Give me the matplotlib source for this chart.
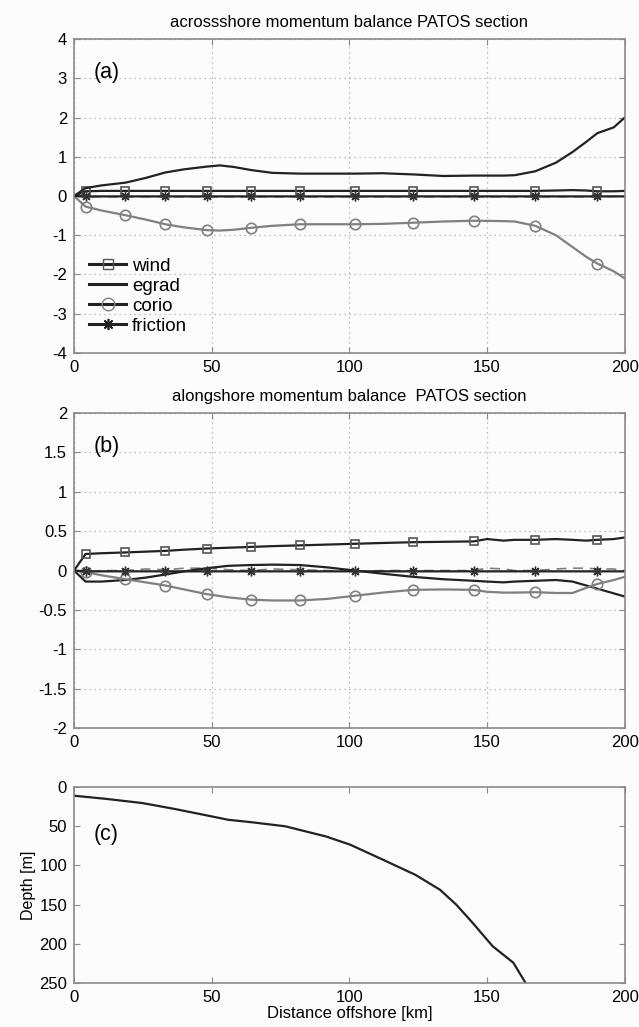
"""Momentum balance terms across the PATOS section (3 panels)."""

import matplotlib.pyplot as plt
from matplotlib.lines import Line2D

plt.rcParams["font.family"] = ["Liberation Sans", "DejaVu Sans"]
plt.rcParams["axes.unicode_minus"] = False

# ---- panel (a): acrossshore terms ----
xa = [0, 4.2, 10, 18.7, 26, 33.2, 40, 48.3, 53, 58, 64.4, 72, 82.1, 92, 102, 112,
      123.2, 134, 145.1, 156, 160, 167.5, 175, 181, 186, 190, 196, 200]
wind_a = [0, 0.12, 0.13, 0.13, 0.13, 0.13, 0.13, 0.13, 0.13, 0.13, 0.13, 0.13, 0.13, 0.13,
          0.13, 0.13, 0.13, 0.13, 0.13, 0.13, 0.13, 0.13, 0.14, 0.15, 0.14, 0.12, 0.12, 0.13]
egrad_a = [0, 0.2, 0.27, 0.34, 0.46, 0.6, 0.68, 0.75, 0.78, 0.74, 0.66, 0.59, 0.57, 0.57,
           0.57, 0.58, 0.55, 0.51, 0.52, 0.52, 0.53, 0.63, 0.85, 1.12, 1.38, 1.6, 1.75, 2.0]
corio_a = [0, -0.27, -0.37, -0.49, -0.6, -0.72, -0.8, -0.87, -0.88, -0.86, -0.81, -0.76,
           -0.72, -0.72, -0.72, -0.71, -0.68, -0.65, -0.63, -0.64, -0.65, -0.76, -1.0,
           -1.3, -1.55, -1.72, -1.92, -2.1]
fric_a = [0, -0.01, -0.01, -0.01, -0.01, -0.01, -0.01, -0.01, -0.01, -0.01, -0.01, -0.01,
          -0.01, -0.01, -0.01, -0.01, -0.01, -0.01, -0.01, -0.01, -0.01, -0.01, -0.01,
          -0.01, -0.01, -0.01, -0.01, -0.01]
resid_a = [0, -0.03, -0.02, -0.02, -0.02, -0.02, -0.02, -0.02, -0.02, -0.02, -0.02, -0.02,
           -0.02, -0.02, -0.02, -0.02, -0.02, -0.02, -0.02, -0.02, -0.02, -0.02, -0.02,
           -0.02, -0.02, -0.02, -0.01, -0.01]
mark_a = [1, 3, 5, 7, 10, 12, 14, 16, 18, 21, 25]

# ---- panel (b): alongshore terms ----
xb = [0, 4.2, 10, 18.7, 26, 33.2, 40, 48.3, 56, 64.4, 72, 82.1, 92, 102, 112, 123.2,
      134, 145.1, 150, 156, 160, 167.5, 175, 181, 186, 190, 196, 200]
wind_b = [0, 0.21, 0.22, 0.23, 0.24, 0.25, 0.265, 0.28, 0.29, 0.30, 0.31, 0.32, 0.33, 0.34,
          0.35, 0.36, 0.365, 0.37, 0.40, 0.38, 0.39, 0.39, 0.40, 0.39, 0.38, 0.39, 0.40, 0.42]
egrad_b = [0, -0.14, -0.14, -0.12, -0.09, -0.05, -0.01, 0.03, 0.06, 0.07, 0.075, 0.07,
           0.04, 0.0, -0.04, -0.08, -0.11, -0.13, -0.14, -0.15, -0.14, -0.13, -0.12,
           -0.14, -0.19, -0.23, -0.29, -0.33]
corio_b = [0, -0.02, -0.06, -0.11, -0.15, -0.19, -0.24, -0.30, -0.34, -0.37, -0.38, -0.38,
           -0.36, -0.32, -0.28, -0.245, -0.24, -0.245, -0.27, -0.28, -0.28, -0.275,
           -0.285, -0.285, -0.22, -0.17, -0.12, -0.08]
fric_b = [0, -0.01, -0.01, -0.01, -0.01, -0.01, -0.01, -0.01, -0.01, -0.01, -0.01, -0.01,
          -0.01, -0.01, -0.01, -0.01, -0.01, -0.01, -0.01, -0.01, -0.01, -0.01, -0.01,
          -0.01, -0.01, -0.01, -0.01, -0.01]
resid_b = [0, -0.02, 0.0, 0.0, 0.02, 0.01, 0.03, 0.03, 0.01, 0.0, 0.02, 0.01, 0.0, -0.01,
           0.0, 0.0, 0.0, 0.0, 0.03, 0.02, 0.0, 0.0, 0.02, 0.03, 0.03, 0.02, 0.02, 0.0]
mark_b = [1, 3, 5, 7, 9, 11, 13, 15, 17, 21, 25]

# ---- panel (c): bottom depth ----
xc = [0, 11.6, 24.9, 36.7, 50, 56, 64.9, 76.7, 91.5, 100.3, 112.2, 124, 132.9, 138.8,
      144.7, 152, 159.5, 164]
depth = [11, 15, 20.4, 28, 37.4, 41.7, 45, 50, 63, 73.5, 92.7, 112, 131, 150, 173, 203,
         224, 250]

DARK = "#222222"
GRAY = "#808080"
FRAME = "#8a8a8a"
BG = "#fcfcfc"
STAR = (8, 2, 0)  # matlab-style asterisk

fig = plt.figure(figsize=(6.39, 10.27), dpi=100, facecolor=BG)
ax_a = fig.add_axes([0.1158, 0.6563, 0.862, 0.3057])
ax_b = fig.add_axes([0.1158, 0.2911, 0.862, 0.3067])
ax_c = fig.add_axes([0.1158, 0.0428, 0.862, 0.1908])


def style(ax, grid=True):
    ax.set_facecolor(BG)
    for s in ax.spines.values():
        s.set_color(FRAME)
        s.set_linewidth(1.2)
    ax.tick_params(direction="in", top=True, right=True, color=FRAME, length=4,
                   labelsize=12, pad=5)
    ax.set_xlim(0, 200)
    ax.set_xticks([0, 50, 100, 150, 200])
    if grid:
        ax.grid(True, linestyle=(0, (1, 3)), color="#aaaaaa", linewidth=0.9)


def balance(ax, x, wind, egrad, corio, fric, resid, marks):
    ax.plot(x, resid, color=GRAY, lw=1.2, ls="--", dashes=(6, 4))
    ax.plot(x, wind, color=DARK, lw=1.6, marker="s", markevery=marks, ms=6,
            mfc="none", mec="#555555", mew=1.2)
    ax.plot(x, egrad, color=DARK, lw=1.6)
    ax.plot(x, corio, color=GRAY, lw=1.6, marker="o", markevery=marks, ms=7.5,
            mfc="none", mec=GRAY, mew=1.2)
    ax.plot(x, fric, color=DARK, lw=1.6, marker=STAR, markevery=marks, ms=7,
            mec="#333333", mew=1.0)


# (a)
style(ax_a)
balance(ax_a, xa, wind_a, egrad_a, corio_a, fric_a, resid_a, mark_a)
ax_a.set_ylim(-4, 4)
ax_a.set_yticks(range(-4, 5))
ax_a.set_title("acrossshore momentum balance PATOS section", fontsize=12, pad=9)
ax_a.text(7.3, 3.15, "(a)", fontsize=15.5, va="center")

handles = [
    Line2D([], [], color=DARK, lw=2.2, marker="s", ms=7, mfc="none", mec="#555555"),
    Line2D([], [], color=DARK, lw=2.2),
    Line2D([], [], color=DARK, lw=2.2, marker="o", ms=9, mfc="none", mec=GRAY),
    Line2D([], [], color=DARK, lw=2.2, marker=STAR, ms=8, mec=DARK, mew=1.2),
]
ax_a.legend(handles, ["wind", "egrad", "corio", "friction"], loc="lower left",
            bbox_to_anchor=(0.0, 0.01), frameon=False, fontsize=13.5, handlelength=2.0,
            handletextpad=0.3, labelspacing=0.15, borderpad=0.3)

# (b)
style(ax_b)
balance(ax_b, xb, wind_b, egrad_b, corio_b, fric_b, resid_b, mark_b)
ax_b.set_ylim(-2, 2)
ax_b.set_yticks([-2, -1.5, -1, -0.5, 0, 0.5, 1, 1.5, 2])
ax_b.set_yticklabels(["-2", "-1.5", "-1", "-0.5", "0", "0.5", "1", "1.5", "2"])
ax_b.set_title("alongshore momentum balance  PATOS section", fontsize=12, pad=9)
ax_b.text(7.3, 1.57, "(b)", fontsize=15.5, va="center")

# (c)
style(ax_c, grid=False)
ax_c.plot(xc, depth, color=DARK, lw=1.6)
ax_c.set_ylim(250, 0)
ax_c.set_yticks([0, 50, 100, 150, 200, 250])
ax_c.text(7.3, 61, "(c)", fontsize=15.5, va="center")
ax_c.set_ylabel("Depth [m]", fontsize=11.5, labelpad=2)
ax_c.set_xlabel("Distance offshore [km]", fontsize=12, labelpad=1)

fig.savefig("out.png", dpi=100, facecolor=BG)
